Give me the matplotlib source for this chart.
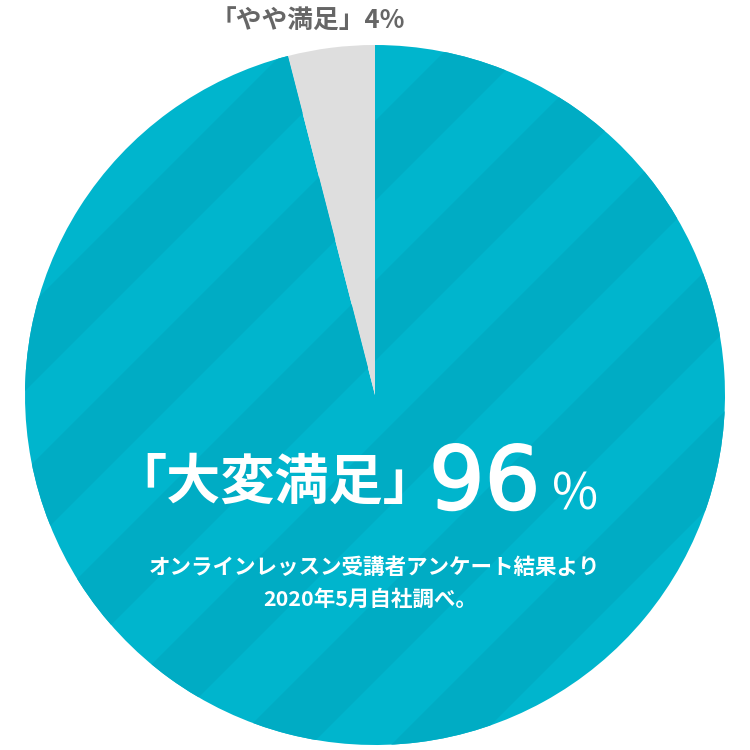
import matplotlib
matplotlib.use("Agg")
import matplotlib.pyplot as plt
import matplotlib.patheffects as pe
from matplotlib.patches import Polygon

plt.rcParams['font.family'] = ['Noto Sans CJK JP', 'DejaVu Sans']

# data
labels = ['大変満足', 'やや満足']
shares = [96, 4]
colors = ['#00b5cd', '#dedede']
stripe_color = '#00acc4'
note_lines = ['オンラインレッスン受講者アンケート結果より', '2020年5月自社調べ。']

W = 750
fig = plt.figure(figsize=(7.5, 7.5), dpi=100)
ax = fig.add_axes([0, 0, 1, 1])

def Y(y_px):
    return W - y_px

cx, cy, r = 375, Y(395), 350
wedges, _ = ax.pie(shares, colors=colors, startangle=90, counterclock=False,
                   center=(cx, cy), radius=r,
                   wedgeprops=dict(linewidth=0))
ax.set_xlim(0, W)
ax.set_ylim(0, W)
ax.set_aspect('equal')
ax.axis('off')

# diagonal stripes clipped to the big wedge
band = 80
for k in range(-2, 14):
    c0 = 160 * k - 734
    t0, t1 = -200, 1000
    poly = Polygon([(c0 + t0, t0), (c0 + band + t0, t0),
                    (c0 + band + t1, t1), (c0 + t1, t1)],
                   closed=True, facecolor=stripe_color, edgecolor='none', zorder=1.5)
    ax.add_patch(poly)
    poly.set_clip_path(wedges[0])

# small label
ax.text(308, Y(20), f'「{labels[1]}」{shares[1]}%', ha='center', va='center',
        fontsize=18.5, color='#666666', fontweight='bold')

# big label
ax.text(437, Y(483), f'「{labels[0]}」', ha='right', va='center',
        fontsize=39, color='white', fontweight='bold')
ax.text(429, Y(509), f'{shares[0]}', ha='left', va='baseline',
        fontsize=63, color='white', family='DejaVu Sans',
        path_effects=[pe.withStroke(linewidth=1.5, foreground='white')])
ax.text(552, Y(510), '%', ha='left', va='baseline',
        fontsize=36, color='white', fontweight='normal')

ax.text(374, Y(567), note_lines[0], ha='center', va='center',
        fontsize=15.5, color='white', fontweight='bold')
ax.text(370, Y(599), note_lines[1], ha='center', va='center',
        fontsize=15.5, color='white', fontweight='bold')

fig.savefig('out.png', dpi=100)
